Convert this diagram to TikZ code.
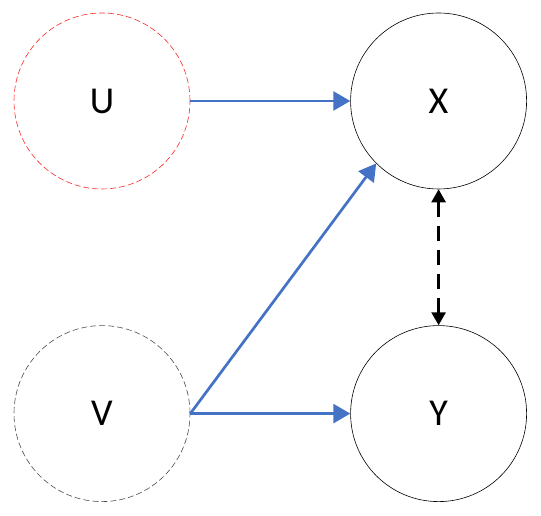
\documentclass[tikz,border=0pt]{standalone}
\usepackage{fontspec}
\setmainfont{Carlito}
\usetikzlibrary{arrows.meta, positioning}

\definecolor{arrowblue}{RGB}{68,114,196}

\begin{document}
\begin{tikzpicture}[
    x=1pt, y=1pt,
    every node/.style={
        circle,
        draw,
        line width=0.6pt,
        minimum size=176pt,
        inner sep=0pt,
        font=\fontsize{38}{44}\selectfont
    },
    latent/.style={dash pattern=on 6pt off 3pt},
    arrow/.style={-{Triangle[length=17pt, width=19pt]}, line width=2.7pt, draw=arrowblue, fill=arrowblue},
    bidir/.style={{Triangle[length=13pt, width=14pt]}-{Triangle[length=13pt, width=14pt]}, line width=2.6pt, dash pattern=on 15pt off 9pt}
]
\useasboundingbox (0,0) rectangle (541,516);

% ------------------------
% Variables
% ------------------------
\node[latent, draw=red!85] (u) at (102,415) {U};
\node (x) [right=160pt of u] {X};
\node[latent, draw=black!70] (v) [below=136pt of u] {V};
\node (y) [below=136pt of x] {Y};

% ------------------------
% Arrows
% ------------------------
\draw[arrow] (u.east) -- (x.west);
\draw[arrow] (v.east) -- (x.south west);
\draw[arrow] (v.east) -- (y.west);
\draw[bidir] (x.south) -- (y.north);

\end{tikzpicture}
\end{document}
